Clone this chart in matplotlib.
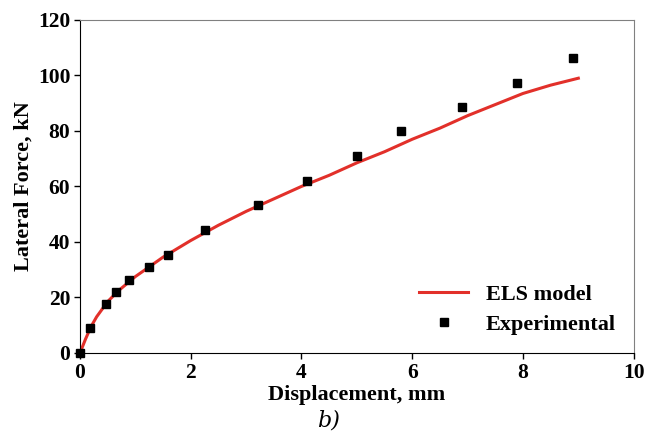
import matplotlib
matplotlib.use('Agg')
import matplotlib.pyplot as plt

# ELS model curve
model_x = [0, 0.1, 0.2, 0.3, 0.5, 0.7, 1.0, 1.5, 2.0, 2.5, 3.0, 3.5, 4.0,
           4.5, 5.0, 5.5, 6.0, 6.5, 7.0, 7.5, 8.0, 8.5, 9.0]
model_y = [0, 5, 9.5, 13, 18.5, 22.5, 27.5, 34.5, 40.5, 46, 51, 55.5, 60,
           64, 68.5, 72.5, 77, 81, 85.5, 89.5, 93.5, 96.5, 99]

# Experimental points
exp_x = [0, 0.18, 0.47, 0.65, 0.88, 1.25, 1.59, 2.26, 3.21, 4.10, 5.0,
         5.79, 6.9, 7.89, 8.9]
exp_y = [0, 9.0, 17.7, 22.0, 26.3, 31.0, 35.3, 44.3, 53.3, 62.0, 71.0,
         80.0, 88.6, 97.3, 106.3]

plt.rcParams['font.family'] = ['Liberation Serif', 'DejaVu Serif']

fig = plt.figure(figsize=(6.56, 4.34), dpi=100)
ax = fig.add_axes([0.122, 0.187, 0.844, 0.767])

ax.plot(model_x, model_y, color='#e2302a', linewidth=2.2, label='ELS model')
ax.plot(exp_x, exp_y, 's', color='black', markersize=6, label='Experimental',
        clip_on=False)

ax.set_xlim(0, 10)
ax.set_ylim(0, 120)
ax.set_xticks([0, 2, 4, 6, 8, 10])
ax.set_yticks([0, 20, 40, 60, 80, 100, 120])
ax.tick_params(direction='out', length=4, width=1, labelsize=15.5, pad=3)
for lab in ax.get_xticklabels() + ax.get_yticklabels():
    lab.set_fontweight('bold')

ax.set_xlabel('Displacement, mm', fontsize=16, fontweight='bold', labelpad=2)
ax.set_ylabel('Lateral Force, kN', fontsize=16, fontweight='bold', labelpad=3)

for side in ['top', 'right']:
    ax.spines[side].set_color('#808080')

leg = ax.legend(loc='lower right', frameon=False,
                prop={'weight': 'bold', 'size': 16}, handlelength=2.2,
                markerscale=0.85, borderaxespad=0.4, labelspacing=0.45)

fig.text(0.5, 0.032, 'b)', fontsize=16, style='italic',
         family='DejaVu Serif', ha='center', va='center')

fig.savefig('out.png', dpi=100)
